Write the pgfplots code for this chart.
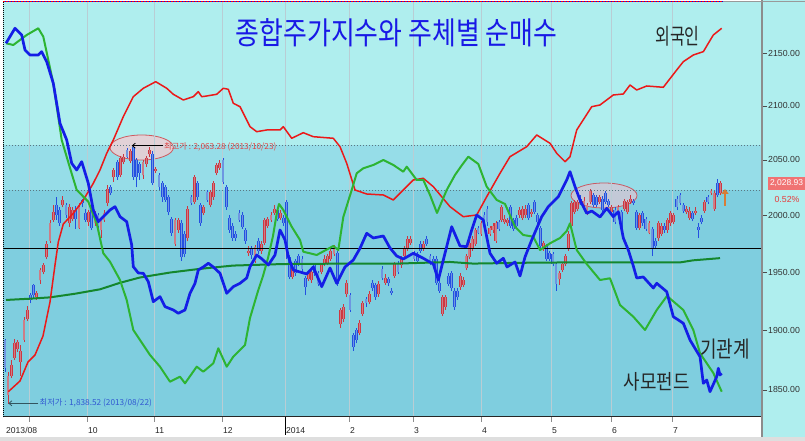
\documentclass[border=0pt]{standalone}
\usepackage{pgfplots}
\pgfplotsset{compat=1.18}
\usepackage{pgfplotstable}
\usepackage{fontspec}
\setmainfont{Liberation Sans}
\newfontfamily\kr{Noto Sans CJK KR}
\usetikzlibrary{arrows.meta}

\definecolor{topbg}{RGB}{175,238,238}
\definecolor{midbg}{RGB}{150,221,232}
\definecolor{lowbg}{RGB}{127,206,223}
\definecolor{gridc}{RGB}{185,205,212}
\definecolor{upcol}{RGB}{205,55,65}
\definecolor{upfill}{RGB}{205,125,135}
\definecolor{dncol}{RGB}{35,80,225}
\definecolor{dnfill}{RGB}{110,150,225}
\definecolor{fred}{RGB}{235,25,25}
\definecolor{fgreen}{RGB}{45,180,50}
\definecolor{fblue}{RGB}{20,30,230}
\definecolor{magreen}{RGB}{20,135,45}
\definecolor{titleblue}{RGB}{25,25,230}
\definecolor{lvl}{RGB}{90,120,130}
\definecolor{boxred}{RGB}{240,115,115}
\definecolor{hiRed}{RGB}{225,70,70}
\definecolor{loBlue}{RGB}{50,90,210}
\definecolor{arrOr}{RGB}{215,125,55}
\definecolor{ellA}{RGB}{236,206,212}
\definecolor{ellAd}{RGB}{205,90,95}
\definecolor{ellB}{RGB}{212,200,214}
\definecolor{ellBd}{RGB}{200,90,100}
\definecolor{loArr}{RGB}{50,85,95}
\definecolor{pctRed}{RGB}{230,60,60}

% daily KOSPI candles: x position, open, high, low, close
\pgfplotstableread{
x o h l c
5 1892 1893 1865 1868
8 1846 1865 1838.52 1862
11.5 1862 1875 1860 1871
14.5 1877 1893 1875 1889
17.5 1884 1892 1882 1890
20.7 1873 1888 1862 1883
24 1892 1911 1890 1909
27.3 1910 1921 1908 1918
30.5 1930 1932 1923 1926
33.5 1939 1940 1927 1930
36.7 1928 1934 1926 1932
40 1943 1954 1940 1952
43.3 1950 1958 1948 1956
46.6 1963 1978 1961 1975
50 1978 1996 1976 1993
53.2 1996 2009 1994 2003
56.4 2009 2016 1996 2000
59.6 2005 2007 1991 1993
62.8 2009 2017 2007 2014
66 2009 2011 1998 2000
69.2 1993 2010 1990 2007
72.5 1997 2007 1995 2005
75.8 2005 2008 1988 1997
79 1989 2011 1988 2007
82.3 2014 2015 2007 2011
85.5 2002 2006 1994 1996
88.6 1994 2005 1991 2003
91.8 2005 2008 1987 1989
95 1993 2004 1991 2002
98 2000 2002 1988 1991
101 1987 1998 1980 1996
104 1996 2005 1994 2002
107.3 2011 2027 2008 2024
110.6 2025 2027 2018 2020
113.8 2034 2043 2030 2041
117.2 2048 2050 2032 2034
120.5 2036 2054 2034 2052
123.8 2048 2055 2046 2053
127 2059 2061 2052 2053
130.2 2049 2060 2047 2058
133.4 2062 2063.28 2032 2034
136.6 2050 2052 2025 2034
139.8 2046 2048 2032 2038
143 2036 2050 2033 2048
146.2 2046 2054 2044 2052
149.4 2055 2062 2053 2059
152.6 2055 2058 2027 2029
155.8 2040 2044 2038 2042
159 2036 2038 2023 2025
162.2 2029 2031 2012 2016
165.4 2025 2027 2012 2014
168.6 2016 2018 2000 2003
171.8 1997 1999 1982 1985
175 1975 1998 1973 1996
178.2 1987 1998 1985 1996
181.4 1993 1996 1960 1963
184.6 1984 1986 1963 1966
187.8 1980 2008 1977 2006
191 2016 2018 2009 2011
194.2 2012 2036 2010 2034
197.4 2029 2031 2014 2016
200.6 2009 2011 1991 1993
203.8 2002 2009 2000 2007
207 2021 2023 2012 2014
210.2 2009 2023 2007 2021
213.4 2016 2031 2014 2029
216.6 2038 2047 2036 2045
219.8 2043 2050 2041 2047
223 2050 2052 2028 2030
226.2 2025 2027 2005 2007
229.4 1998 2000 1985 1987
232.6 1991 1993 1978 1980
235.8 1984 1986 1978 1980
239 2002 2005 1994 1996
242.2 2000 2003 1988 1990
245.4 1987 1989 1975 1978
248.6 1967 1973 1964 1969
251.8 1971 1973 1962 1965
255 1960 1974 1958 1972
258.2 1978 1980 1966 1969
261.4 1969 1978 1966 1975
264.6 1976 1998 1974 1996
267.8 1991 1999 1989 1997
271 1996 2003 1994 2000
274.2 2002 2009 2000 2006
277.4 2005 2007 1995 1997
280.6 1998 2005 1996 2002
283.2 1998 2000 1991 1993
286.2 2012 2014 1962 1972
289.2 1963 1965 1944 1946
292.4 1946 1956 1944 1954
295.6 1960 1962 1947 1949
298.8 1964 1966 1955 1957
302 1962 1964 1950 1953
305.2 1945 1947 1930 1937
308.4 1944 1951 1942 1949
311.6 1943 1952 1941 1950
314.8 1956 1958 1947 1949
318 1949 1951 1938 1940
321.2 1950 1958 1948 1956
324.4 1957 1965 1955 1962
327.6 1958 1966 1956 1964
330.8 1962 1971 1960 1969
334 1966 1974 1964 1972
337.2 1967 1969 1938 1940
340.4 1905 1919 1902 1917
343.6 1910 1922 1907 1920
346.8 1931 1943 1929 1941
350 1930 1932 1916 1918
353.2 1896 1898 1883 1886
356.4 1900 1902 1889 1892
359.6 1898 1909 1896 1906
362.8 1914 1925 1912 1923
366 1927 1929 1920 1923
369.2 1924 1934 1922 1931
372.4 1941 1943 1934 1936
375.6 1939 1941 1926 1928
378.8 1931 1942 1929 1940
382 1953 1955 1943 1945
385.2 1941 1948 1939 1945
388.4 1944 1946 1938 1941
391.6 1934 1936 1930 1932
394.8 1947 1959 1945 1957
398 1957 1960 1948 1950
401.2 1956 1964 1954 1962
404.4 1964 1973 1962 1971
407.6 1971 1982 1969 1979
410.8 1976 1982 1974 1979
414 1967 1969 1960 1962
417.2 1966 1968 1958 1960
420.4 1975 1977 1967 1969
423.6 1971 1977 1969 1975
426.8 1979 1982 1973 1975
430 1964 1966 1956 1958
433.2 1962 1964 1955 1957
436.4 1962 1964 1939 1941
439.4 1941 1943 1932 1934
442.3 1914 1930 1912 1928
445.3 1920 1930 1918 1928
448.3 1947 1949 1938 1940
451.3 1949 1951 1934 1936
454.2 1934 1936 1918 1920
457.2 1934 1936 1926 1928
460.2 1937 1949 1935 1947
463.2 1939 1946 1937 1943
466.1 1954 1966 1952 1964
469.1 1963 1978 1961 1976
472.1 1971 1982 1969 1979
475.1 1975 1989 1973 1987
478.0 1989 1991 1983 1985
481.0 1984 1995 1982 1993
484.0 2000 2003 1989 1991
487.0 2006 2008 1991 1994
489.9 1984 1991 1982 1989
492.9 1987 1993 1985 1991
495.9 1978 1995 1976 1993
498.9 1994 1996 1986 1988
501.8 1996 2009 1994 2007
504.8 1994 2000 1992 1997
507.8 1993 1998 1991 1996
510.8 2007 2009 1989 1991
513.7 1996 1998 1986 1988
516.7 1998 2000 1989 1991
519.7 2000 2007 1998 2005
522.7 1998 2008 1996 2006
525.6 2000 2009 1998 2006
528.6 2009 2011 1996 1998
531.6 2001 2006 1999 2003
534.6 2012 2014 2001 2003
537.5 2000 2002 1992 1994
540.5 1989 1991 1971 1973
543.6 1971 1978 1969 1976
546.7 1973 1975 1960 1962
549.8 1967 1969 1960 1962
552.9 1966 1968 1955 1957
556 1957 1959 1934 1940
559.1 1944 1951 1939 1949
562.2 1952 1959 1950 1957
565.3 1957 1966 1955 1964
568.4 1971 1986 1969 1984
571.5 1991 2013 1989 2011
574.6 2003 2014 2001 2012
577.7 2006 2014 2004 2012
580.8 2015 2018 2009 2011
583.9 2009 2016 2007 2013
587 2002 2011 2000 2009
590.1 2012 2024 2010 2022
593.2 2018 2020 2007 2009
596.3 2016 2018 2007 2009
599.4 2012 2018 2010 2016
602.5 2015 2017 2003 2005
605.6 2020 2022 2010 2012
608.7 2013 2015 2007 2009
611.8 2003 2009 2001 2007
614.9 2005 2007 1992 1994
618 2002 2009 2000 2007
621.1 2003 2005 1987 1989
624.2 2006 2015 2004 2013
627.3 2003 2014 2001 2012
630.4 2012 2018 2010 2015
633.5 2013 2015 2009 2011
636.6 2003 2005 1987 1989
639.7 1989 2002 1987 2000
642.8 2002 2004 1991 1993
645.9 1997 1999 1986 1988
649 1985 1995 1983 1993
652.1 1988 1990 1964 1971
655.2 1978 1980 1971 1973
658.3 1980 1995 1978 1993
661.4 1984 1993 1982 1991
664.5 1991 1993 1985 1987
667.6 1987 1998 1985 1996
670.7 1993 2004 1991 2002
673.8 1994 2002 1992 2000
676.9 2015 2017 2005 2007
680 2018 2020 2009 2011
683.1 2009 2011 2002 2004
686.2 2003 2008 2001 2006
689.3 1998 2007 1996 2004
692.4 2002 2004 1995 1997
695.5 2002 2007 2000 2004
698.6 1990 1993 1980 1987
701.7 1998 2000 1992 1994
704.8 2004 2014 2002 2012
707.9 2016 2018 2010 2012
711 2020 2024 2018 2022
714.1 2006 2022 2004 2020
717.2 2029 2033 2016 2018
720.3 2020 2031 2018 2028.93
}\candles

\begin{document}
\begin{tikzpicture}[x=1bp,y=1bp]
\useasboundingbox (0,0) rectangle (805,441);
\fill[white] (0,0) rectangle (805,441);
\fill[topbg] (762,0) rectangle (805,441);
\fill[black!13] (0,0) rectangle (805,4);
\fill[topbg] (3,296) rectangle (762,439);
\fill[midbg] (3,251) rectangle (762,296);
\fill[lowbg] (3,24) rectangle (762,251);
% highlight ellipses
\filldraw[fill=ellA, fill opacity=0.85, draw=ellAd, line width=0.8bp] (141.7,293.5) ellipse [x radius=31.7, y radius=12.5];
\filldraw[fill=ellB, fill opacity=0.8, draw=ellBd, line width=0.8bp] (604,245.5) ellipse [x radius=33, y radius=12.5];

% price axis (logarithmic price scale via coordinate transformation)
\begin{axis}[
  at={(3bp,24bp)}, anchor=south west,
  width=759bp, height=415bp, scale only axis,
  xmin=3, xmax=762,
  y coord trafo/.code={\pgfmathparse{1000*ln(#1)}},
  y coord inv trafo/.code={\pgfmathparse{exp(#1/1000)}},
  ymin=1827.8, ymax=2199.8,
  axis line style={draw=none},
  xtick={29,87,154,222,285,349,413,481,551,611,672},
  xticklabels={,10,11,12,2014,2,3,4,5,6,7},
  extra x ticks={5}, extra x tick labels={2013/08},
  extra x tick style={grid=none, major tick length=0pt, tick label style={yshift=-5bp}},
  xmajorgrids,
  major grid style={draw=gridc, line width=0.9bp},
  tick align=outside,
  major tick length=5bp,
  xtick pos=bottom,
  ytick pos=right,
  yticklabel pos=right,
  xtick style={draw=black!45, line width=0.7bp},
  ytick style={draw=black!70, line width=0.7bp},
  ytick={1850,1900,1950,2000,2050,2100,2150},
  yticklabels={1850.00,1900.00,1950.00,2000.00,2050.00,2100.00,2150.00},
  yminorticks=false,
  /pgf/number format/assume math mode=true,
  xticklabel style={font=\fontsize{8.6}{10}\selectfont, text=black!85, anchor=west, inner sep=0pt, xshift=1bp, yshift=-8.7bp},
  yticklabel style={font=\fontsize{8.8}{10}\selectfont, text=black!80, anchor=west, inner sep=0pt, xshift=1bp},
]
\addplot[lvl, line width=0.8bp, dash pattern=on 1.2bp off 1.8bp, forget plot] coordinates {(3,2063.28) (762,2063.28)};
\addplot[lvl, line width=0.8bp, dash pattern=on 1.2bp off 1.8bp, forget plot] coordinates {(3,2022) (762,2022)};
\pgfplotstablegetrowsof{\candles}
\pgfmathtruncatemacro{\lastrow}{\pgfplotsretval-1}
\pgfplotsforeachungrouped \i in {0,...,\lastrow}{%
  \pgfplotstablegetelem{\i}{x}\of\candles\let\cx\pgfplotsretval
  \pgfplotstablegetelem{\i}{o}\of\candles\let\co\pgfplotsretval
  \pgfplotstablegetelem{\i}{h}\of\candles\let\ch\pgfplotsretval
  \pgfplotstablegetelem{\i}{l}\of\candles\let\cl\pgfplotsretval
  \pgfplotstablegetelem{\i}{c}\of\candles\let\cc\pgfplotsretval
  \pgfmathtruncatemacro{\isdn}{\cc<\co ? 1 : 0}%
  \ifnum\isdn=1 \def\ccol{dncol}\def\cfil{dnfill}\else\def\ccol{upcol}\def\cfil{upfill}\fi
  \edef\temp{%
    \noexpand\addplot[color=\ccol, line width=0.7bp, forget plot] coordinates {(\cx,\cl) (\cx,\ch)};%
    \noexpand\addplot[color=\ccol, line width=2.9bp, forget plot] coordinates {(\cx,\co) (\cx,\cc)};%
    \noexpand\addplot[color=\cfil, line width=1.3bp, forget plot] coordinates {(\cx,\co) (\cx,\cc)};%
  }\temp
}
\addplot[black, line width=1bp, forget plot] coordinates {(3,1970.5) (762,1970.5)};
\addplot[magreen, line width=2bp, line join=round, forget plot] coordinates {(6,1925.9) (30,1927) (50,1928.1) (75,1931.5) (100,1935.4) (120,1940.8) (140,1945.5) (170,1949.8) (200,1952.8) (233,1955.7) (283,1957.1) (350,1957.5) (400,1957.7) (450,1959.1) (473,1957.5) (520,1958.3) (567,1958.5) (680,1958.5) (693,1960.4) (720,1962.2)};
\end{axis}

% cumulative net buying by investor type (arbitrary units)
\begin{axis}[
  at={(3bp,24bp)}, anchor=south west,
  width=759bp, height=415bp, scale only axis,
  xmin=3, xmax=762, ymin=0, ymax=415,
  hide axis,
]
\addplot[fred, line width=1.5bp, line join=round] coordinates {(8.3,25.3) (20,36) (28,55) (35,62) (43,81) (50,115) (55,152) (58.3,175) (63.3,193) (73.3,203.7) (83.3,217) (93.3,233.7) (100,247) (106.7,263.7) (113.3,277) (123.3,300.3) (133.3,320.3) (143.3,328.7) (155.7,335.3) (166.7,328.7) (173.3,322.7) (183.3,317) (193.3,320.3) (198.3,325.3) (201.7,320.3) (206.7,321) (216.7,322.7) (223.3,328.7) (228.3,327.7) (233.3,313.7) (240,310.3) (250,290.3) (256.7,285.3) (266.7,287) (280,287) (283.3,290.3) (291.7,278.7) (303.3,284.3) (313.3,280.3) (333.3,278.7) (340,270.3) (346.7,253.7) (355,227) (366.7,223) (383.3,222) (393.3,217) (400,223.7) (413.3,237) (423.3,238.7) (433.3,230.3) (450,210.3) (463.3,200.3) (476.7,202) (486.7,220.3) (500,243.7) (510,260.3) (526.7,270.3) (536.7,282) (550,273.7) (556.7,263.7) (565,255.3) (570,260.3) (576.7,287) (591.7,310.3) (600,312) (613.3,322) (623.3,323) (630,332) (636.7,327) (646.7,331) (663.3,329.7) (676.7,347) (683.3,355.3) (693.3,362) (703.3,365.3) (713.3,382) (721.7,388.7)};
\addplot[fgreen, line width=2bp, line join=round] coordinates {(6,373.7) (13.3,372) (26.7,382) (38.3,388.7) (43.3,380.3) (53.3,333.7) (61.7,277) (70,249) (76.7,227) (88.3,215.3) (96.7,193.7) (103.3,163.7) (110,155.3) (120,137) (126.7,117) (133.3,87) (140,77) (150,62) (160,50.3) (170,35.3) (180,40.3) (185,33.7) (196.7,50.3) (203.3,45.3) (213.3,53.7) (218.3,68.7) (226.7,50.3) (233.3,60.3) (245,72) (250,99) (258.3,127) (263,141) (268,159) (273,181) (277,205) (279,213) (283.3,207) (291.7,190.3) (300,177) (303.3,165.3) (316.7,162) (333.3,171) (338.3,167) (343.3,200) (351.7,227) (356.7,243.7) (363.3,248.7) (373.3,252) (383.3,257) (393.3,252) (403.3,245.3) (406.7,250.3) (416.7,237) (423.3,237) (430,222) (437,204) (446.7,227) (455,242) (462,252) (468.3,260.3) (478.3,253) (486.7,230.3) (496.7,217) (505,213) (515,190.3) (523.3,182) (533.3,180.3) (540,167) (550,173.7) (560,179) (566.7,186) (570,193.7) (576.7,167) (586.7,153) (600,137) (610,138.7) (620,112) (633.3,100.3) (645,87) (656.7,107) (667,121) (683.3,107) (693.3,87) (700,63.7) (713.3,44) (721.7,25.3)};
\addplot[fblue, line width=2.7bp, line join=round] coordinates {(6,373.7) (15,388.7) (21.7,382) (25,367) (30,362) (38.3,362) (41.7,365.3) (46.7,355.3) (53.3,333.7) (60,293.7) (66.7,277) (71.7,253.7) (76.7,247) (81.7,255.3) (88.3,233.7) (93.3,207) (98.3,195.3) (103.3,200.3) (110,207) (115,210.3) (120,200.3) (126.7,195.3) (131.7,172) (133.3,150.3) (138.3,144) (143.3,143.7) (148.3,135.3) (153.3,115.3) (160,120.3) (165,110.3) (173.3,107) (178.3,103.7) (185,107) (190,123.7) (195,133.7) (198.3,147) (203.3,150) (208.3,153.7) (213.3,150) (220,143.7) (226.7,123.7) (233.3,130.3) (240,133.7) (246.7,139) (250,150.3) (256.7,162) (262,158) (268.3,152) (275,162) (280,187) (285,177) (288.3,160.3) (293.3,147) (306.7,143) (313.3,150) (321.7,130.3) (330,149) (336.7,133.7) (345,150) (353.3,157) (360,168.7) (366.7,183.7) (373.3,179) (383.3,181) (390,169) (396.7,161) (403.3,158) (413.3,163.7) (423.3,158.7) (433.3,153) (438.3,137) (443.3,157) (451.7,190.3) (460,171) (466.7,170.3) (471.7,187) (476.7,202) (483.3,197) (490,163.7) (496.7,153.7) (503.3,158.7) (507,150) (515,155) (520,141) (525,160) (531.7,177) (541.7,200.3) (548.3,210.3) (558.3,220.3) (566.7,237) (570,245.3) (575,230.3) (580,217) (586.7,203.7) (591.7,206) (600,200) (606.7,208.7) (613.3,200.3) (618.3,205.3) (623.3,179) (628.3,167) (633.3,151) (636.7,139) (643.3,140) (653.3,129) (656.7,133.7) (666.7,125.3) (673.3,100.3) (683.3,93.7) (690,77) (700,60.3) (703.3,33.7) (706.7,37) (710,25.3) (716.7,40.3) (718.3,48.7) (720,42) (721.7,43.7)};
\end{axis}

% frame
\draw[black!85, line width=1bp] (3,24) -- (762,24);
\draw[black, line width=0.8bp] (285,24) -- (285,6);
\draw[black!45, line width=1.2bp] (762,4) -- (762,441);
\draw[black, line width=0.8bp, dash pattern=on 1bp off 1bp] (3,24) -- (3,439);
\draw[red, line width=1.1bp, dash pattern=on 1.5bp off 1.5bp] (3,439.6) -- (723,439.6);
\draw[blue, line width=1.1bp, dash pattern=on 1.5bp off 1.5bp, dash phase=1.5bp] (3,439.6) -- (723,439.6);
\draw[black!40, line width=0.8bp] (723,439.6) -- (805,439.6);

% annotations
\draw[-{Straight Barb[length=3bp,width=5bp]}, black, line width=0.8bp] (163.3,295.3) -- (131.7,295.3);
\node[anchor=west, inner sep=0pt, text=hiRed, font=\kr\fontsize{8.3}{10}\selectfont] at (164,294.6) {최고가 : 2,063.28 (2013/10/23)};
\draw[-{Straight Barb[length=3bp,width=5bp]}, draw=loArr, line width=0.8bp] (38.3,37.7) -- (8.3,37.7);
\node[anchor=west, inner sep=0pt, text=loBlue, font=\kr\fontsize{8.3}{10}\selectfont] at (39.5,38) {최저가 : 1,838.52 (2013/08/22)};
\node[text=titleblue, font=\kr\fontsize{26}{30}\selectfont, yscale=1.2] at (396.5,408) {종합주가지수와 주체별 순매수};
\node[text=black!85, font=\kr\fontsize{17}{20}\selectfont, xscale=0.95, yscale=1.3] at (677.5,404.5) {외국인};
\node[text=black!85, font=\kr\fontsize{18}{20}\selectfont, yscale=1.25] at (725,92) {기관계};
\node[text=black!85, font=\kr\fontsize{18}{20}\selectfont, yscale=1.15] at (656.5,59) {사모펀드};
\fill[boxred] (768,251) rectangle (805,264);
\node[text=white, inner sep=0pt, font=\fontsize{8.5}{10}\selectfont] at (786.5,257.5) {2,028.93};
\node[text=pctRed, inner sep=0pt, font=\fontsize{8.8}{10}\selectfont] at (787,241.7) {0.52\%};
\draw[-{Triangle[length=5bp,width=7bp]}, draw=arrOr, fill=arrOr, line width=2bp] (725,235) -- (725,252);
\end{tikzpicture}
\end{document}
